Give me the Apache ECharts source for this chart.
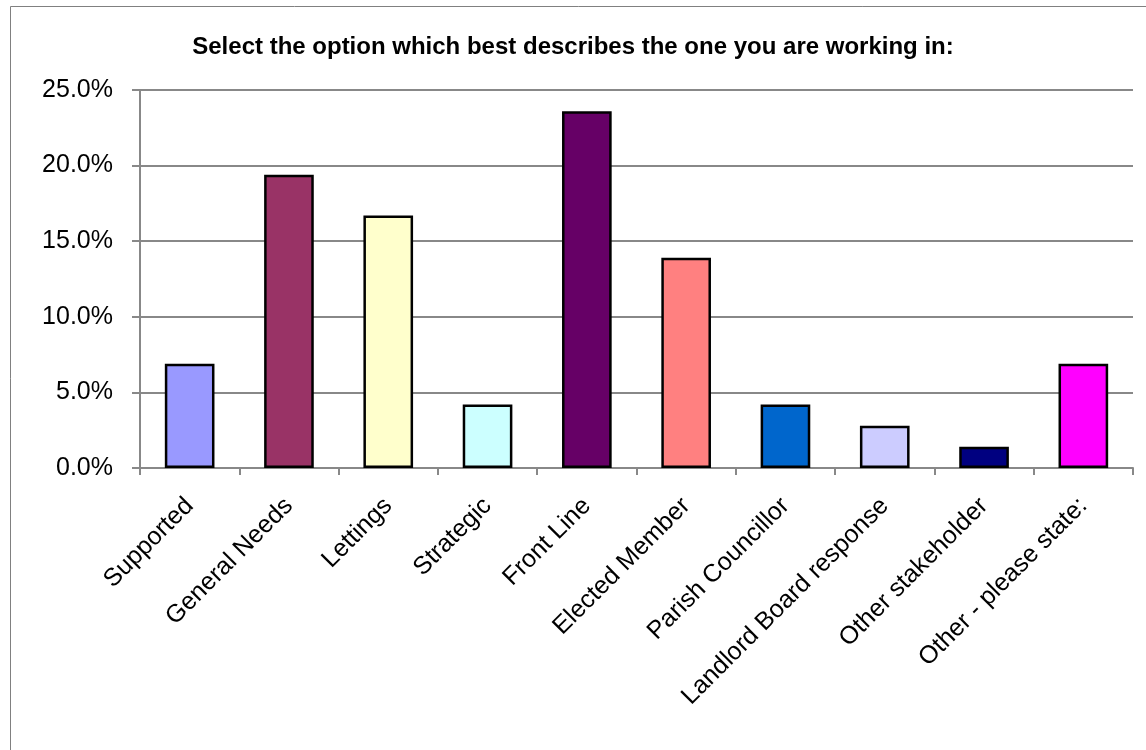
<!DOCTYPE html>
<html><head><meta charset="utf-8">
<script src="https://cdn.jsdelivr.net/npm/echarts@6/dist/echarts.min.js"></script>
<style>html,body{margin:0;padding:0;background:#fff}#c{width:1146px;height:750px}</style>
</head><body><div id="c"></div>
<script>
const categories = ["Supported","General Needs","Lettings","Strategic","Front Line","Elected Member","Parish Councillor","Landlord Board response","Other stakeholder","Other - please state:"];
const values = [6.9, 19.4, 16.7, 4.2, 23.6, 13.9, 4.2, 2.8, 1.4, 6.9];
const colors = ["#9999FF","#993366","#FFFFCC","#CCFFFF","#660066","#FF8080","#0066CC","#CCCCFF","#000080","#FF00FF"];
const titleText = "Select the option which best describes the one you are working in:";

const chart = echarts.init(document.getElementById('c'), null, {renderer:'canvas'});
chart.setOption({
  animation:false,
  backgroundColor:'#fff',
  graphic:[{type:'rect',shape:{x:10.5,y:6.5,width:1300,height:900},style:{fill:'none',stroke:'#808080',lineWidth:1}}],
  title:{text:titleText,left:'center',top:30,textStyle:{fontFamily:'Liberation Sans',fontWeight:'bold',fontSize:24,color:'#000'}},
  grid:{left:140,right:13,top:90,bottom:282,containLabel:false},
  xAxis:{type:'category',data:categories,
    axisLine:{lineStyle:{color:'#888',width:2}},
    axisTick:{show:true,length:7,lineStyle:{color:'#888',width:2},alignWithLabel:false},
    axisLabel:{rotate:45,margin:34,fontFamily:'Liberation Sans',fontSize:25,color:'#000',interval:0}},
  yAxis:{type:'value',min:0,max:25,interval:5,
    axisLine:{show:true,lineStyle:{color:'#888',width:2}},
    axisTick:{show:true,length:8,lineStyle:{color:'#888',width:2}},
    splitLine:{lineStyle:{color:'#888',width:2}},
    axisLabel:{formatter:v=>v.toFixed(1)+'%',fontFamily:'Liberation Sans',fontSize:25,color:'#000',margin:27}},
  series:[{type:'bar',barWidth:'50%',
    data:values.map((v,i)=>({value:v,itemStyle:{color:colors[i]}})),
    itemStyle:{borderColor:'#000',borderWidth:2.5}}]
});
</script></body></html>
